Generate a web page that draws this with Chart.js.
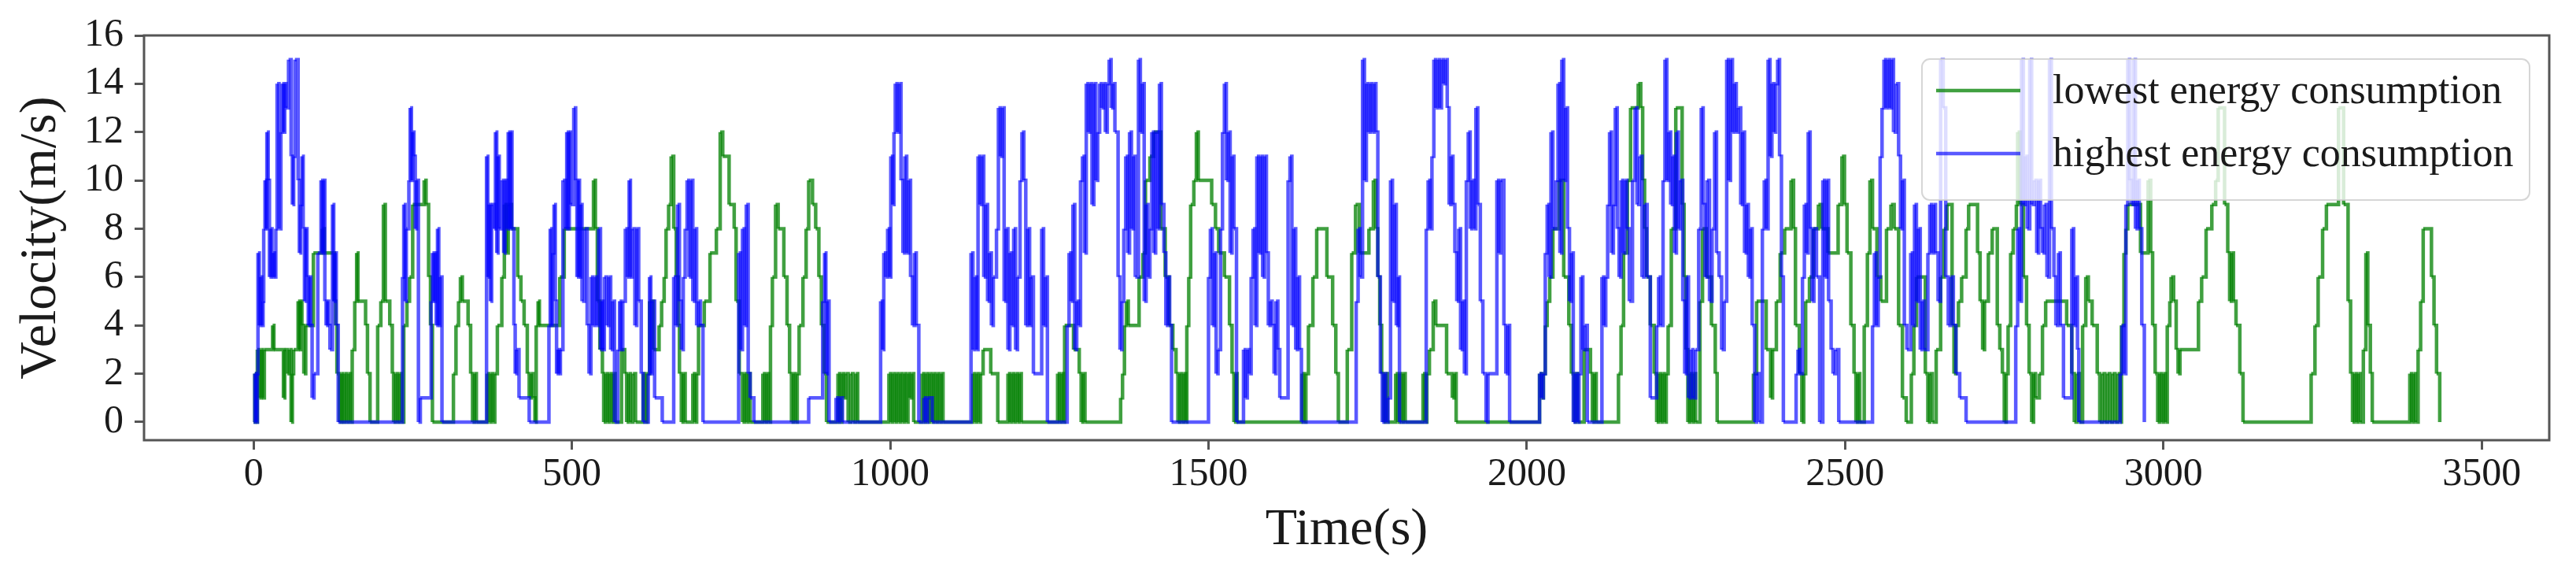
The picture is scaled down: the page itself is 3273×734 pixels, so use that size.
<!DOCTYPE html>
<html>
<head>
<meta charset="utf-8">
<title>Velocity profiles</title>
<script src="https://cdn.jsdelivr.net/npm/chart.js@4.4.1/dist/chart.umd.min.js"></script>
<style>
  html, body { margin: 0; padding: 0; background: #fff; }
  #wrap { width: 3273px; height: 734px; }
</style>
</head>
<body>
<div id="wrap"><canvas id="velocity" width="3273" height="734"></canvas></div>
<script>
// speed traces: [time (s), velocity (m/s)] at every change of speed
var lowestRun = [
    [0,0],[2,2],[4,0],[6,3],[9,1],[12,3],[14,1],[17,3],[30,4],[32,3],[47,1],[49,3],[53,2],[56,3],[59,0],[61,2],[63,3],
    [70,5],[72,3],[74,5],[76,4],[79,2],[82,4],[94,7],[108,8],[111,7],[127,5],[129,4],[131,2],[135,0],[138,2],[140,0],
    [143,2],[146,0],[149,2],[152,0],[155,3],[159,5],[162,7],[164,5],[176,4],[179,2],[183,0],[195,4],[200,5],[204,9],
    [207,5],[214,4],[218,2],[220,0],[223,2],[226,0],[229,2],[232,0],[236,4],[241,5],[245,6],[250,9],[268,10],[271,9],
    [275,6],[278,4],[281,0],[314,2],[318,4],[322,5],[325,6],[328,5],[337,4],[341,2],[344,0],[347,2],[350,0],[367,2],
    [370,0],[373,2],[376,0],[379,2],[383,4],[390,6],[394,9],[397,7],[400,9],[405,8],[415,6],[420,5],[425,4],[430,2],
    [433,1],[436,2],[439,1],[442,0],[444,4],[447,5],[449,4],[481,6],[488,8],[534,10],[537,8],[540,5],[544,3],[548,2],
    [550,0],[553,2],[556,0],[559,2],[562,0],[565,2],[568,0],[578,3],[583,2],[586,0],[589,2],[592,0],[596,2],[600,0],
    [612,2],[615,0],[618,2],[622,5],[628,3],[637,4],[641,5],[645,6],[648,8],[652,9],[656,11],[660,8],[664,6],[667,4],
    [669,2],[672,0],[675,2],[678,0],[690,2],[693,0],[696,2],[699,4],[708,5],[717,7],[727,8],[733,12],[737,11],[747,9],
    [755,8],[758,5],[763,2],[768,0],[771,2],[774,0],[777,2],[780,0],[800,2],[803,0],[806,2],[809,0],[812,4],[815,6],
    [820,9],[824,8],[833,6],[838,4],[842,2],[845,0],[848,2],[851,0],[854,2],[857,4],[863,6],[868,8],[872,10],[878,9],
    [883,8],[888,6],[892,4],[896,2],[900,0],[918,2],[921,0],[924,2],[927,1],[930,2],[934,0],[938,2],[942,0],[946,2],
    [949,0],[998,2],[1001,0],[1004,2],[1007,0],[1010,2],[1013,0],[1016,2],[1019,0],[1022,2],[1025,0],[1028,2],[1031,1],
    [1034,2],[1037,0],[1050,2],[1053,0],[1056,2],[1059,0],[1062,2],[1065,0],[1068,2],[1071,0],[1074,2],[1077,0],[1080,2],
    [1083,0],[1130,2],[1133,0],[1136,2],[1139,0],[1142,2],[1146,3],[1158,2],[1169,0],[1185,2],[1188,0],[1191,2],[1194,0],
    [1197,2],[1200,0],[1203,2],[1206,0],[1263,2],[1266,0],[1269,2],[1272,0],[1274,4],[1288,3],[1297,2],[1300,0],[1303,2],
    [1306,0],[1362,1],[1365,2],[1368,4],[1371,5],[1374,4],[1391,6],[1397,7],[1401,10],[1408,11],[1414,12],[1425,8],
    [1432,6],[1438,4],[1444,3],[1449,2],[1452,0],[1455,2],[1458,0],[1461,2],[1464,0],[1466,4],[1469,6],[1472,9],[1477,10],
    [1481,12],[1484,10],[1505,9],[1511,8],[1516,7],[1525,6],[1533,4],[1537,2],[1540,0],[1543,2],[1545,0],[1647,2],[1650,0],
    [1653,2],[1657,4],[1664,6],[1670,8],[1686,6],[1695,4],[1700,2],[1704,0],[1718,3],[1725,7],[1731,9],[1737,7],[1752,8],
    [1759,10],[1763,8],[1766,6],[1769,4],[1772,2],[1775,0],[1778,2],[1781,0],[1794,2],[1797,0],[1800,2],[1803,0],[1806,2],
    [1809,0],[1837,2],[1840,0],[1843,2],[1847,3],[1853,5],[1857,4],[1874,2],[1883,1],[1886,2],[1889,0],[2020,2],[2023,1],
    [2026,2],[2029,4],[2032,5],[2036,6],[2041,8],[2051,10],[2058,6],[2066,4],[2070,2],[2074,0],[2077,2],[2080,0],[2090,3],
    [2100,2],[2103,0],[2106,2],[2109,0],[2144,2],[2148,4],[2152,7],[2158,10],[2163,13],[2175,14],[2179,13],[2182,10],
    [2185,8],[2188,6],[2194,4],[2200,2],[2204,0],[2207,2],[2210,0],[2213,2],[2216,0],[2219,2],[2222,4],[2227,8],[2234,13],
    [2244,9],[2247,6],[2250,3],[2253,0],[2256,2],[2259,0],[2262,2],[2265,0],[2272,5],[2276,8],[2282,6],[2290,4],[2296,2],
    [2299,0],[2356,2],[2361,5],[2376,3],[2383,1],[2386,3],[2392,5],[2398,7],[2405,8],[2415,10],[2419,8],[2422,4],[2428,2],
    [2432,0],[2435,2],[2438,5],[2444,6],[2450,8],[2458,9],[2463,8],[2473,7],[2489,9],[2495,11],[2499,9],[2503,7],[2509,4],
    [2514,2],[2517,0],[2520,2],[2523,0],[2530,4],[2535,7],[2539,10],[2543,8],[2550,6],[2556,5],[2565,8],[2572,9],[2577,8],
    [2584,4],[2590,1],[2596,0],[2604,2],[2608,4],[2612,6],[2626,2],[2630,0],[2633,2],[2637,0],[2643,3],[2650,6],[2655,8],
    [2660,9],[2668,4],[2671,2],[2674,4],[2678,5],[2683,6],[2690,8],[2694,9],[2708,7],[2712,5],[2716,3],[2719,5],[2725,7],
    [2731,8],[2739,4],[2743,3],[2747,2],[2750,0],[2753,2],[2756,4],[2760,7],[2764,8],[2769,9],[2771,12],[2775,9],[2780,6],
    [2785,4],[2789,2],[2793,0],[2796,2],[2799,1],[2805,2],[2810,4],[2815,5],[2848,4],[2856,2],[2860,0],[2864,2],[2868,0],
    [2873,4],[2878,6],[2882,5],[2888,4],[2896,2],[2900,0],[2904,2],[2908,0],[2912,2],[2916,0],[2920,2],[2924,0],[2928,2],
    [2932,0],[2934,4],[2938,7],[2941,8],[2944,9],[2964,7],[2976,10],[2980,7],[2983,4],[2987,2],[2991,0],[2994,2],[2997,0],
    [3000,2],[3003,0],[3006,4],[3010,5],[3012,6],[3016,5],[3020,3],[3023,2],[3026,3],[3055,5],[3060,6],[3067,8],[3076,9],
    [3082,10],[3086,13],[3096,9],[3101,7],[3104,5],[3107,7],[3110,5],[3114,4],[3120,2],[3125,0],[3232,2],[3238,4],[3243,6],
    [3250,8],[3256,9],[3275,13],[3283,9],[3290,5],[3294,2],[3297,0],[3300,2],[3303,0],[3306,2],[3309,0],[3314,3],[3318,7],
    [3321,4],[3325,2],[3328,0],[3387,2],[3390,0],[3393,2],[3396,0],[3400,3],[3404,5],[3408,8],[3421,6],[3425,4],[3429,2],
    [3434,0]
];

var highestRun = [
    [0,0],[2,2],[4,0],[6,2],[7,7],[9,4],[11,6],[13,4],[15,5],[16,8],[18,10],[20,8],[21,12],[23,10],[25,6],[27,8],[29,6],
    [31,7],[33,6],[35,8],[37,14],[40,8],[43,12],[45,14],[47,12],[49,14],[51,13],[55,15],[59,11],[61,9],[63,11],[65,15],
    [70,10],[72,7],[74,9],[76,11],[78,8],[80,5],[82,8],[84,6],[86,4],[88,6],[90,4],[92,1],[95,2],[101,7],[106,10],[108,7],
    [110,10],[112,5],[114,4],[116,5],[118,4],[120,3],[124,9],[126,5],[128,7],[130,4],[133,0],[234,6],[236,9],[238,5],
    [240,8],[244,10],[246,13],[248,10],[250,12],[252,11],[254,8],[256,10],[259,0],[262,1],[279,5],[281,7],[283,5],[285,7],
    [287,4],[289,8],[291,4],[293,6],[296,0],[366,11],[368,6],[370,9],[372,5],[374,9],[378,8],[380,12],[382,7],[384,11],
    [386,8],[390,10],[393,7],[395,10],[398,8],[400,12],[402,8],[404,12],[406,8],[409,4],[411,2],[413,3],[417,1],[433,0],
    [464,4],[466,8],[468,4],[470,7],[472,9],[474,5],[476,2],[478,3],[480,2],[482,3],[486,10],[490,8],[492,12],[494,8],
    [496,12],[498,9],[503,13],[506,10],[508,6],[510,10],[512,6],[514,9],[516,5],[520,8],[524,4],[527,2],[530,6],[533,4],
    [536,6],[539,4],[542,8],[545,3],[547,5],[549,3],[551,6],[555,4],[558,6],[561,3],[564,5],[567,0],[572,3],[575,5],
    [577,3],[580,5],[584,8],[587,6],[590,10],[592,6],[595,8],[599,4],[602,8],[605,5],[609,2],[612,0],[620,2],[622,6],
    [624,2],[626,5],[630,1],[642,0],[660,6],[663,4],[666,9],[669,5],[672,3],[675,6],[678,8],[681,10],[684,6],[687,10],
    [690,5],[693,8],[696,4],[699,5],[702,4],[706,0],[762,7],[765,3],[768,8],[771,4],[774,9],[777,2],[780,1],[786,0],
    [872,1],[894,5],[897,7],[899,2],[901,5],[904,0],[915,1],[918,0],[921,1],[925,0],[985,5],[988,3],[990,7],[993,6],
    [996,8],[999,6],[1001,11],[1004,9],[1006,12],[1008,14],[1011,12],[1014,14],[1017,10],[1020,7],[1023,11],[1026,7],
    [1029,10],[1032,6],[1035,4],[1038,7],[1041,4],[1045,0],[1053,1],[1056,0],[1059,1],[1066,0],[1127,7],[1130,3],[1133,6],
    [1136,3],[1138,11],[1141,9],[1144,11],[1147,6],[1150,9],[1153,5],[1156,7],[1159,4],[1162,6],[1167,8],[1170,13],
    [1173,11],[1176,13],[1179,5],[1182,8],[1185,3],[1188,7],[1191,4],[1194,8],[1197,3],[1200,6],[1204,10],[1207,12],
    [1210,10],[1213,4],[1216,8],[1219,4],[1221,6],[1225,2],[1238,8],[1241,4],[1244,6],[1247,0],[1278,4],[1281,7],[1284,5],
    [1287,9],[1290,3],[1293,5],[1296,4],[1299,10],[1302,11],[1305,7],[1308,14],[1311,12],[1314,14],[1317,9],[1320,14],
    [1323,10],[1326,12],[1329,14],[1332,13],[1335,14],[1338,12],[1341,14],[1344,15],[1347,13],[1350,14],[1353,12],
    [1358,6],[1361,3],[1364,5],[1367,8],[1370,11],[1373,7],[1376,12],[1379,8],[1382,11],[1385,6],[1390,15],[1393,12],
    [1396,14],[1399,5],[1402,9],[1405,6],[1408,8],[1411,12],[1414,7],[1417,12],[1420,8],[1423,14],[1426,9],[1430,7],
    [1433,4],[1436,6],[1439,4],[1442,0],[1500,6],[1503,8],[1506,4],[1509,7],[1512,2],[1515,3],[1519,8],[1522,12],
    [1525,14],[1528,10],[1531,12],[1534,7],[1537,11],[1540,8],[1544,0],[1555,3],[1558,1],[1561,3],[1564,2],[1567,6],
    [1570,8],[1573,4],[1576,11],[1579,7],[1582,11],[1585,6],[1588,11],[1591,7],[1594,4],[1597,5],[1600,4],[1603,2],
    [1606,5],[1609,3],[1612,1],[1625,10],[1628,11],[1631,4],[1634,8],[1637,3],[1640,6],[1643,3],[1646,0],[1732,5],
    [1735,8],[1738,6],[1742,15],[1745,10],[1748,14],[1751,12],[1754,14],[1757,12],[1760,14],[1763,12],[1766,6],[1770,2],
    [1773,0],[1776,2],[1779,0],[1782,1],[1786,10],[1789,5],[1792,9],[1795,4],[1798,6],[1800,0],[1842,8],[1845,10],
    [1848,8],[1851,11],[1854,15],[1857,13],[1860,15],[1863,13],[1866,15],[1869,14],[1872,15],[1875,13],[1878,9],[1881,11],
    [1884,9],[1887,7],[1890,5],[1893,8],[1896,3],[1899,5],[1902,2],[1905,10],[1908,12],[1911,8],[1914,10],[1917,8],
    [1920,13],[1923,9],[1927,5],[1931,2],[1936,0],[1939,2],[1953,10],[1956,7],[1959,10],[1964,4],[1967,2],[1970,4],
    [1973,0],[2020,2],[2023,1],[2026,2],[2029,7],[2032,9],[2035,6],[2038,12],[2041,8],[2046,10],[2049,14],[2052,7],
    [2055,15],[2058,10],[2061,13],[2064,8],[2067,5],[2070,7],[2073,0],[2076,2],[2079,0],[2082,2],[2085,6],[2088,3],
    [2091,4],[2095,0],[2118,6],[2121,4],[2124,6],[2127,9],[2130,12],[2133,7],[2136,9],[2139,13],[2142,8],[2145,6],
    [2148,10],[2151,7],[2154,10],[2157,8],[2161,5],[2166,10],[2170,13],[2173,9],[2177,11],[2181,6],[2185,9],[2189,6],
    [2194,1],[2204,4],[2207,6],[2210,4],[2214,10],[2217,15],[2220,10],[2223,12],[2226,9],[2229,11],[2232,7],[2235,12],
    [2238,8],[2241,10],[2245,5],[2248,2],[2251,6],[2254,1],[2258,3],[2261,1],[2265,3],[2270,8],[2274,13],[2277,9],
    [2280,6],[2283,10],[2287,5],[2291,8],[2295,12],[2298,7],[2302,6],[2306,3],[2310,5],[2314,15],[2317,10],[2320,15],
    [2323,12],[2326,14],[2329,12],[2332,13],[2336,9],[2339,12],[2342,7],[2345,9],[2348,6],[2351,8],[2354,4],[2358,0],
    [2361,2],[2365,0],[2370,8],[2373,10],[2376,8],[2379,15],[2382,11],[2385,14],[2388,12],[2391,14],[2394,15],[2397,11],
    [2400,6],[2403,0],[2423,2],[2426,3],[2429,2],[2433,6],[2436,9],[2439,7],[2442,12],[2445,8],[2448,5],[2451,8],
    [2455,6],[2460,0],[2465,10],[2468,6],[2471,10],[2474,5],[2478,3],[2481,2],[2485,3],[2490,0],[2543,4],[2546,7],
    [2549,4],[2552,6],[2555,11],[2558,13],[2561,15],[2564,13],[2567,15],[2570,13],[2573,15],[2576,12],[2580,14],[2584,11],
    [2587,8],[2590,10],[2593,4],[2597,3],[2603,7],[2606,4],[2609,9],[2612,5],[2615,8],[2618,3],[2621,5],[2624,3],
    [2630,7],[2633,9],[2636,7],[2639,9],[2642,7],[2646,5],[2650,15],[2654,13],[2658,6],[2662,4],[2666,6],[2670,4],
    [2674,2],[2680,1],[2690,0],[2768,4],[2771,8],[2774,5],[2777,15],[2780,9],[2783,11],[2786,8],[2790,15],[2793,9],
    [2797,10],[2801,7],[2804,10],[2807,8],[2810,7],[2813,9],[2817,6],[2821,15],[2824,8],[2828,6],[2831,4],[2835,7],
    [2838,4],[2843,1],[2856,8],[2859,4],[2862,6],[2865,3],[2867,0],[2932,2],[2935,4],[2938,2],[2941,9],[2944,15],
    [2947,10],[2950,9],[2953,15],[2956,8],[2959,10],[2962,8],[2966,4],[2970,0]
];

var seriesNames = ['lowest energy consumption', 'highest energy consumption'];
var timeTicks = [0, 500, 1000, 1500, 2000, 2500, 3000, 3500];
var speedTicks = [0, 2, 4, 6, 8, 10, 12, 14, 16];

var green = 'rgba(0, 128, 0, 0.75)';
var greenAlt = 'rgba(0, 128, 1, 0.75)';
var blue = 'rgba(0, 0, 255, 0.65)';
var blueAlt = 'rgba(1, 0, 255, 0.65)';
var ink = '#1a1a1a';
var spine = '#555';

Chart.defaults.font.family = '"Liberation Serif", "Times New Roman", serif';
Chart.defaults.color = ink;

function toPoints(run) {
    return run.map(function (p) { return {x: p[0], y: p[1]}; });
}

// alternate two near-identical colours so each step is stroked on its own
// and overlapping strokes build up like in the original plot
function alternate(a, b) {
    return function (ctx) { return ctx.p0DataIndex % 2 ? b : a; };
}

function fixedTicks(values) {
    return function (scale) {
        scale.ticks = values.map(function (v) { return {value: v}; });
    };
}

function roundRect(ctx, x, y, w, h, r) {
    ctx.beginPath();
    ctx.moveTo(x + r, y);
    ctx.lineTo(x + w - r, y);
    ctx.arcTo(x + w, y, x + w, y + r, r);
    ctx.lineTo(x + w, y + h - r);
    ctx.arcTo(x + w, y + h, x + w - r, y + h, r);
    ctx.lineTo(x + r, y + h);
    ctx.arcTo(x, y + h, x, y + h - r, r);
    ctx.lineTo(x, y + r);
    ctx.arcTo(x, y, x + r, y, r);
    ctx.closePath();
}

var legendBox = {
    id: 'legendBox',
    afterDatasetsDraw: function (chart) {
        var ctx = chart.ctx;
        var area = chart.chartArea;
        var x = area.right - 797, y = area.top + 30, w = 772, h = 179;
        ctx.save();
        roundRect(ctx, x, y, w, h, 10);
        ctx.fillStyle = 'rgba(255, 255, 255, 0.8)';
        ctx.fill();
        ctx.lineWidth = 2;
        ctx.strokeStyle = 'rgba(204, 204, 204, 0.8)';
        ctx.stroke();
        ctx.font = '52px "Liberation Serif", "Times New Roman", serif';
        ctx.textBaseline = 'middle';
        chart.data.datasets.forEach(function (ds, i) {
            var ly = y + 40 + i * 80;
            ctx.beginPath();
            ctx.moveTo(x + 18, ly);
            ctx.lineTo(x + 125, ly);
            ctx.strokeStyle = ds.borderColor;
            ctx.lineWidth = 4.5;
            ctx.stroke();
            ctx.fillStyle = ink;
            ctx.fillText(ds.label, x + 166, ly + 2);
        });
        ctx.restore();
    }
};

var frame = {
    id: 'frame',
    afterDraw: function (chart) {
        var a = chart.chartArea;
        var ctx = chart.ctx;
        ctx.save();
        ctx.strokeStyle = spine;
        ctx.lineWidth = 3;
        ctx.strokeRect(a.left, a.top, a.right - a.left, a.bottom - a.top);
        ctx.restore();
    }
};

var axisGrid = {drawOnChartArea: false, tickLength: 12, tickWidth: 3, tickColor: spine};

new Chart(document.getElementById('velocity'), {
    type: 'line',
    data: {
        datasets: [{
            label: seriesNames[0],
            data: toPoints(lowestRun),
            borderColor: green,
            borderWidth: 4.5,
            stepped: true,
            pointRadius: 0,
            fill: false,
            order: 1,
            segment: {borderColor: alternate(green, greenAlt)}
        }, {
            label: seriesNames[1],
            data: toPoints(highestRun),
            borderColor: blue,
            borderWidth: 4.5,
            stepped: true,
            pointRadius: 0,
            fill: false,
            order: 0,
            segment: {borderColor: alternate(blue, blueAlt)}
        }]
    },
    options: {
        responsive: false,
        devicePixelRatio: 1,
        animation: false,
        events: [],
        layout: {padding: {left: 0, top: 45, right: 34, bottom: 0}},
        plugins: {
            legend: {display: false},
            tooltip: {enabled: false}
        },
        scales: {
            x: {
                type: 'linear',
                min: -172,
                max: 3606,
                afterBuildTicks: fixedTicks(timeTicks),
                afterFit: function (scale) { scale.height = 175; },
                grid: axisGrid,
                border: {display: false},
                ticks: {
                    font: {size: 50},
                    padding: 2,
                    maxRotation: 0,
                    autoSkip: false,
                    callback: function (v) { return String(v); }
                },
                title: {
                    display: true,
                    text: 'Time(s)',
                    font: {size: 66},
                    padding: {top: 0, bottom: 21}
                }
            },
            y: {
                type: 'linear',
                min: -0.75,
                max: 16,
                afterBuildTicks: fixedTicks(speedTicks),
                afterFit: function (scale) { scale.width = 183; },
                grid: axisGrid,
                border: {display: false},
                ticks: {
                    font: {size: 50},
                    padding: 14,
                    autoSkip: false,
                    callback: function (v) { return String(v); }
                },
                title: {
                    display: true,
                    text: 'Velocity(m/s)',
                    font: {size: 66},
                    padding: {top: 13, bottom: 0}
                }
            }
        }
    },
    plugins: [legendBox, frame]
});
</script>
</body>
</html>
